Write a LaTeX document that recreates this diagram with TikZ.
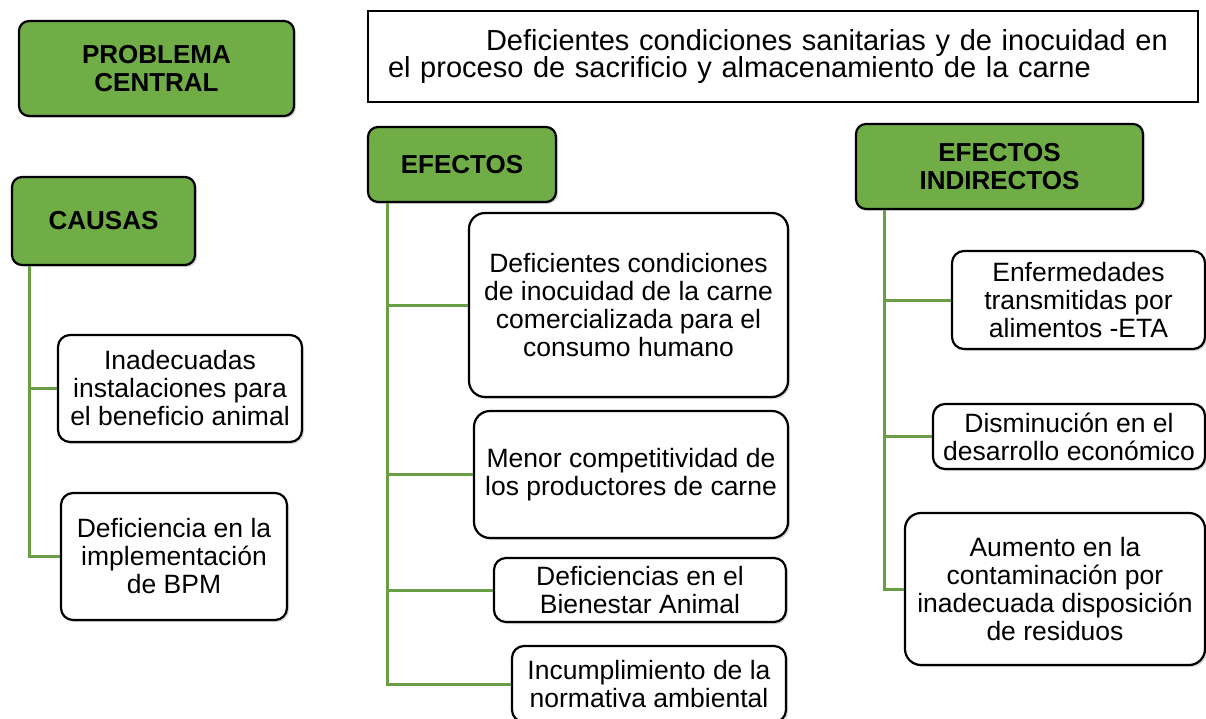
\documentclass[tikz,border=0pt]{standalone}
\usepackage{fontspec}
\setmainfont{Liberation Sans}
\usepackage{tikz}
\usetikzlibrary{shadows}
\definecolor{verde}{HTML}{70AD47}
\definecolor{verdelinea}{HTML}{6A9E45}
\tikzstyle{caja} = [draw=black, line width=2.2pt, rounded corners=12pt, align=center, inner sep=0pt, font={\fontsize{26.5}{28}\selectfont}, drop shadow={shadow xshift=2pt, shadow yshift=-2pt, opacity=0.3}]
\tikzstyle{verdecaja} = [caja, fill=verde, rounded corners=10pt, font={\fontsize{26}{28}\selectfont\bfseries}]
\tikzstyle{blanca} = [caja, fill=white]
\tikzstyle{rama} = [draw=verdelinea, line width=3pt]

\begin{document}
\begin{tikzpicture}[x=1pt,y=-1pt]
    \useasboundingbox (0,0) rectangle (1206,719);
    \node[verdecaja,minimum width=275pt,minimum height=95pt](problema) at (156.5,68.5){PROBLEMA\\CENTRAL};
    \node[draw=black,line width=1.6pt,minimum width=830pt,minimum height=91pt,inner xsep=20pt,inner ysep=0pt,text width=790pt,align=left,font={\fontsize{29}{27.5}\selectfont}](titulo) at (783,56.5){\hspace*{98pt}\makebox[694pt][s]{Deficientes condiciones sanitarias y de inocuidad en}\\el proceso de sacrificio y almacenamiento de la carne};
    \node[verdecaja,minimum width=183pt,minimum height=88pt](causas) at (103.5,221){CAUSAS};
    \node[verdecaja,minimum width=188pt,minimum height=75pt](efectos) at (462,164.5){EFECTOS};
    \node[verdecaja,minimum width=287pt,minimum height=85pt](indirectos) at (999.5,166.5){EFECTOS\\INDIRECTOS};
    % causas
    \node[blanca,minimum width=244pt,minimum height=107pt](c1) at (180,388.5){Inadecuadas\\instalaciones para\\el beneficio animal};
    \node[blanca,minimum width=226pt,minimum height=127pt](c2) at (174,556.5){Deficiencia en la\\implementación\\de BPM};
    % efectos
    \node[blanca,rounded corners=16pt,minimum width=319pt,minimum height=184pt](e1) at (628.5,305){Deficientes condiciones\\de inocuidad de la carne\\comercializada para el\\consumo humano};
    \node[blanca,rounded corners=16pt,minimum width=314pt,minimum height=127pt](e2) at (631,474.5){Menor competitividad de\\los productores de carne};
    \node[blanca,minimum width=292pt,minimum height=64pt](e3) at (640,590){Deficiencias en el\\Bienestar Animal};
    \node[blanca,minimum width=274pt,minimum height=76pt](e4) at (649,684){Incumplimiento de la\\normativa ambiental};
    % efectos indirectos
    \node[blanca,minimum width=253pt,minimum height=98pt](i1) at (1078.5,300){Enfermedades\\transmitidas por\\alimentos -ETA};
    \node[blanca,minimum width=272pt,minimum height=65pt](i2) at (1069,436.5){Disminución en el\\desarrollo económico};
    \node[blanca,rounded corners=16pt,minimum width=300pt,minimum height=152pt](i3) at (1055,589){Aumento en la\\contaminación por\\inadecuada disposición\\de residuos};
    \foreach \n in {c1,c2}
      \draw[rama]([xshift=19pt]causas.south west) |- (\n.west);
    \foreach \n in {e1,e2,e3,e4}
      \draw[rama]([xshift=21pt]efectos.south west) |- (\n.west);
    \foreach \n in {i1,i2,i3}
      \draw[rama]([xshift=30pt]indirectos.south west) |- (\n.west);
\end{tikzpicture}
\end{document}
